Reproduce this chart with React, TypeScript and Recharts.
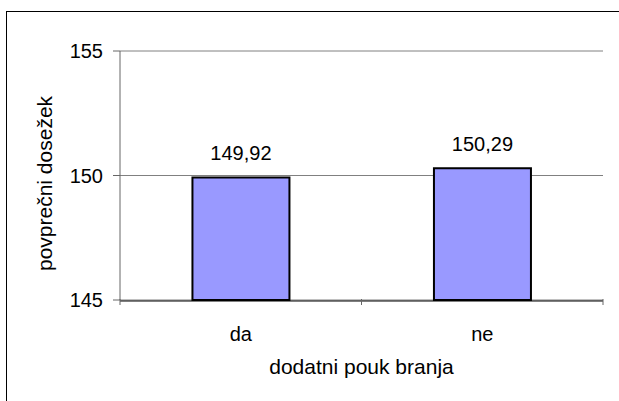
import React from 'react';
import { BarChart, Bar, XAxis, YAxis, CartesianGrid, LabelList } from 'recharts';

const categories = ['da', 'ne'];
const values = [149.92, 150.29];
const yTicks = [145, 150, 155];
const boundaryTicks = [0, 1, 2];
const xTitle = 'dodatni pouk branja';
const yTitle = 'povprečni dosežek';

const data = categories.map((c, i) => ({ name: c, value: values[i], idx: i + 0.5 }));

const FONT = '"Liberation Sans", Arial, sans-serif';

const TickMark = (props: any) => {
  const { x, y } = props;
  return <line x1={x} y1={y - 1} x2={x} y2={y + 5} stroke="#666" strokeWidth={1} />;
};

export default function App() {
  return (
    <div style={{ position: 'absolute', left: 0, top: 0, width: 619, height: 401, overflow: 'hidden', background: '#fff' }}>
      <div style={{ position: 'absolute', left: 6, top: 11, width: 700, height: 500, borderTop: '1px solid #000', borderLeft: '1px solid #000' }} />
      <div style={{ position: 'absolute', left: 0, top: 0 }}>
        <BarChart
          width={619}
          height={401}
          data={data}
          margin={{ top: 51, right: 16, bottom: 41, left: 0 }}
          barCategoryGap="30%"
          style={{ fontFamily: FONT }}
        >
          <CartesianGrid horizontal vertical={false} stroke="#808080" strokeWidth={1} />
          <XAxis
            xAxisId="t2"
            dataKey="name"
            axisLine={{ stroke: '#000', strokeWidth: 1 }}
            tickLine={false}
            tickMargin={20}
            height={59}
            tick={{ fill: '#000', fontSize: 20, fontFamily: FONT }}
            label={{
              content: ({ viewBox }: any) => (
                <text x={viewBox.x + viewBox.width / 2} y={374} textAnchor="middle" fontSize={21} fontFamily={FONT} fill="#000">
                  {xTitle}
                </text>
              ),
            }}
          />
          <XAxis
            xAxisId="t1"
            type="number"
            dataKey="idx"
            domain={[0, 2]}
            ticks={boundaryTicks}
            axisLine={false}
            tickLine={false}
            tick={<TickMark />}
            tickSize={0}
            tickMargin={0}
            height={1}
          />
          <YAxis
            domain={[145, 155]}
            ticks={yTicks}
            width={120}
            tickSize={7}
            tickMargin={10}
            axisLine={{ stroke: '#666' }}
            tickLine={{ stroke: '#666' }}
            tick={{ fill: '#000', fontSize: 20, fontFamily: FONT }}
            label={{
              content: ({ viewBox }: any) => {
                const cx = 52;
                const cy = viewBox.y + viewBox.height / 2 + 8;
                return (
                  <text x={cx} y={cy} transform={`rotate(-90 ${cx} ${cy})`} textAnchor="middle" fontSize={21} fontFamily={FONT} fill="#000">
                    {yTitle}
                  </text>
                );
              },
            }}
          />
          <Bar dataKey="value" xAxisId="t2" fill="#9999FF" stroke="#000" strokeWidth={2} isAnimationActive={false}>
            <LabelList
              dataKey="value"
              position="top"
              offset={17}
              formatter={(v: any) => Number(v).toFixed(2).replace('.', ',')}
              style={{ fill: '#000', fontSize: 20, fontFamily: FONT }}
            />
          </Bar>
        </BarChart>
      </div>
    </div>
  );
}
